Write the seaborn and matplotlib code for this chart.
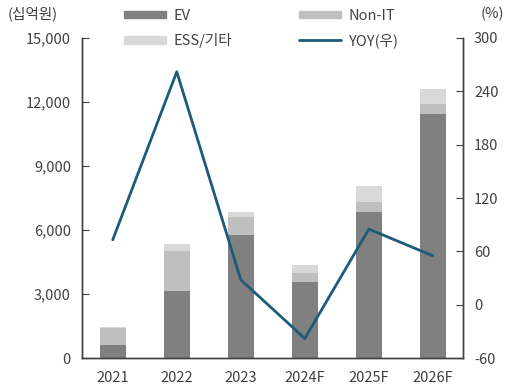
import numpy as np
import pandas as pd
import matplotlib
matplotlib.use("Agg")
import matplotlib.pyplot as plt
import seaborn as sns
from matplotlib.patches import Patch
from matplotlib.lines import Line2D

# --- data (십억원, %) ---
years = ["2021", "2022", "2023", "2024F", "2025F", "2026F"]
ev = [600, 3150, 5770, 3580, 6860, 11440]
non_it = [800, 1880, 850, 390, 450, 470]
ess = [50, 310, 240, 390, 750, 700]
yoy = [73, 262, 28, -38, 85, 55]

C_EV = "#808080"
C_NONIT = "#bfbfbf"
C_ESS = "#d9d9d9"
C_LINE = "#1d5b79"

sns.set_style("white")
plt.rcParams["font.family"] = ["Noto Sans CJK KR", "DejaVu Sans"]
plt.rcParams["font.size"] = 10.5
plt.rcParams["axes.unicode_minus"] = False

df = pd.DataFrame({"year": years, "ev": ev, "non_it": non_it, "ess": ess, "yoy": yoy})
df["lvl2"] = df["ev"] + df["non_it"]
df["lvl3"] = df["lvl2"] + df["ess"]

fig = plt.figure(figsize=(5.11, 3.9), dpi=100)
ax = fig.add_axes([0.1605, 0.082, 0.7455, 0.8206])

# stacked bars by layering cumulative totals
sns.barplot(data=df, x="year", y="lvl3", color=C_ESS, width=0.4, ax=ax, saturation=1, linewidth=0)
sns.barplot(data=df, x="year", y="lvl2", color=C_NONIT, width=0.4, ax=ax, saturation=1, linewidth=0)
sns.barplot(data=df, x="year", y="ev", color=C_EV, width=0.4, ax=ax, saturation=1, linewidth=0)

ax.set_ylim(0, 15000)
ax.set_yticks(np.arange(0, 15001, 3000))
ax.set_yticklabels([f"{v:,}" for v in range(0, 15001, 3000)])
ax.set_xlim(-0.48, 5.47)
ax.set_xlabel("")
ax.set_ylabel("")
ax.set_xticks(np.arange(0.5, 5, 1), minor=True)
ax.tick_params(axis="x", which="major", length=0, pad=9)
ax.tick_params(axis="x", which="minor", length=5, direction="in", color="#404040")
ax.tick_params(axis="y", length=5, direction="in", pad=8, color="#404040")
for t in ax.get_xticklabels() + ax.get_yticklabels():
    t.set_color("#404040")

ax2 = ax.twinx()
x_pos = np.arange(len(years))
sns.lineplot(x=x_pos, y=df["yoy"].values, color=C_LINE, linewidth=2, ax=ax2)
ax2.set_ylim(-60, 300)
ax2.set_yticks(np.arange(-60, 301, 60))
ax2.tick_params(axis="y", length=5, direction="in", pad=8, color="#404040", labelcolor="#404040")

for a in (ax, ax2):
    a.spines["top"].set_visible(False)
    for s in ("left", "right", "bottom"):
        a.spines[s].set_color("#404040")
        a.spines[s].set_linewidth(1)

fig.text(0.015, 0.965, "(십억원)", fontsize=10.5, color="#404040", va="center")
fig.text(0.94, 0.965, "(%)", fontsize=10.5, color="#404040", va="center")

handles = [Patch(color=C_EV), Patch(color=C_ESS), Patch(color=C_NONIT),
           Line2D([0], [0], color=C_LINE, linewidth=2)]
labels = ["EV", "ESS/기타", "Non-IT", "YOY(우)"]
leg = fig.legend(handles, labels, ncol=2, loc="upper left", bbox_to_anchor=(0.225, 1.0),
                 frameon=False, handlelength=2.9, handleheight=0.45, handletextpad=0.5,
                 columnspacing=4.6, labelspacing=0.7, fontsize=10.5, borderaxespad=0.2)
for t in leg.get_texts():
    t.set_color("#404040")

fig.savefig("out.png", dpi=100)
